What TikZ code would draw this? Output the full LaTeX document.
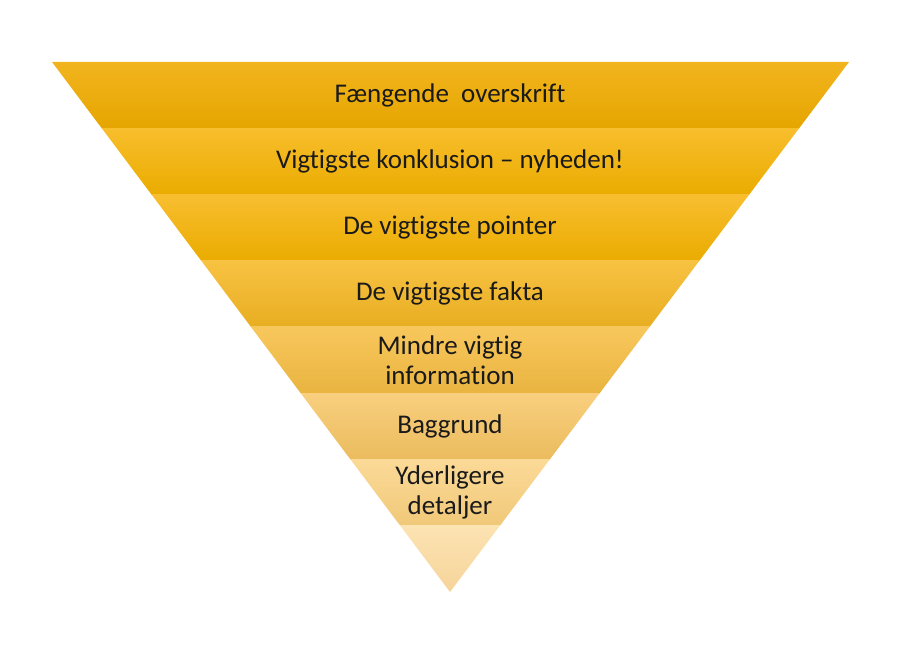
\documentclass[tikz,border=0pt]{standalone}
\usepackage{fontspec}
\setmainfont{Carlito}[Ligatures=CommonOff]
\usepackage{tikz}

\definecolor{top1}{HTML}{F2B41E}\definecolor{mid1}{HTML}{F5B800}\definecolor{bot1}{HTML}{E5A600}
\definecolor{top2}{HTML}{F8BE2C}\definecolor{mid2}{HTML}{FBC100}\definecolor{bot2}{HTML}{EAAC00}
\definecolor{top3}{HTML}{F8BE30}\definecolor{mid3}{HTML}{FBC100}\definecolor{bot3}{HTML}{EAAC00}
\definecolor{top4}{HTML}{F8C242}\definecolor{mid4}{HTML}{F9C133}\definecolor{bot4}{HTML}{E8AE22}
\definecolor{top5}{HTML}{F8C75C}\definecolor{mid5}{HTML}{F8C650}\definecolor{bot5}{HTML}{E9B440}
\definecolor{top6}{HTML}{F9CF7E}\definecolor{mid6}{HTML}{F8CB70}\definecolor{bot6}{HTML}{EBBC5E}
\definecolor{top7}{HTML}{FBDA98}\definecolor{mid7}{HTML}{FAD58A}\definecolor{bot7}{HTML}{F0C878}
\definecolor{top8}{HTML}{FCE3B2}\definecolor{mid8}{HTML}{FBDFA8}\definecolor{bot8}{HTML}{F6D49A}
\definecolor{labeltext}{HTML}{1A1A1A}

\begin{document}
\begin{tikzpicture}
  [x=1pt,y=1pt,
   every node/.style={text=labeltext,align=center,font=\fontsize{27}{30}\selectfont}]
\useasboundingbox (0,0) rectangle (913,646);
\coordinate (tl) at (52,584);
\coordinate (tr) at (849,584);
\coordinate (apex) at (450,54);
\begin{scope}
  \clip (tl) -- (tr) -- (apex) -- cycle;
  \foreach \i in {1,...,8}
    \shade[top color=top\i,middle color=mid\i,bottom color=bot\i]
      (40,{584-66.25*\i}) rectangle (860,{584-66.25*(\i-1)});
\end{scope}
\foreach \i/\txt in {1/Fængende\ \ overskrift,
                     2/Vigtigste konklusion – nyheden!,
                     3/De vigtigste pointer,
                     4/De vigtigste fakta,
                     5/Mindre vigtig\\information,
                     6/Baggrund,
                     7/Yderligere\\detaljer}
  \node (lab\i) at (450,{584-66.25*(\i-0.5)}) {\txt};
\end{tikzpicture}
\end{document}
